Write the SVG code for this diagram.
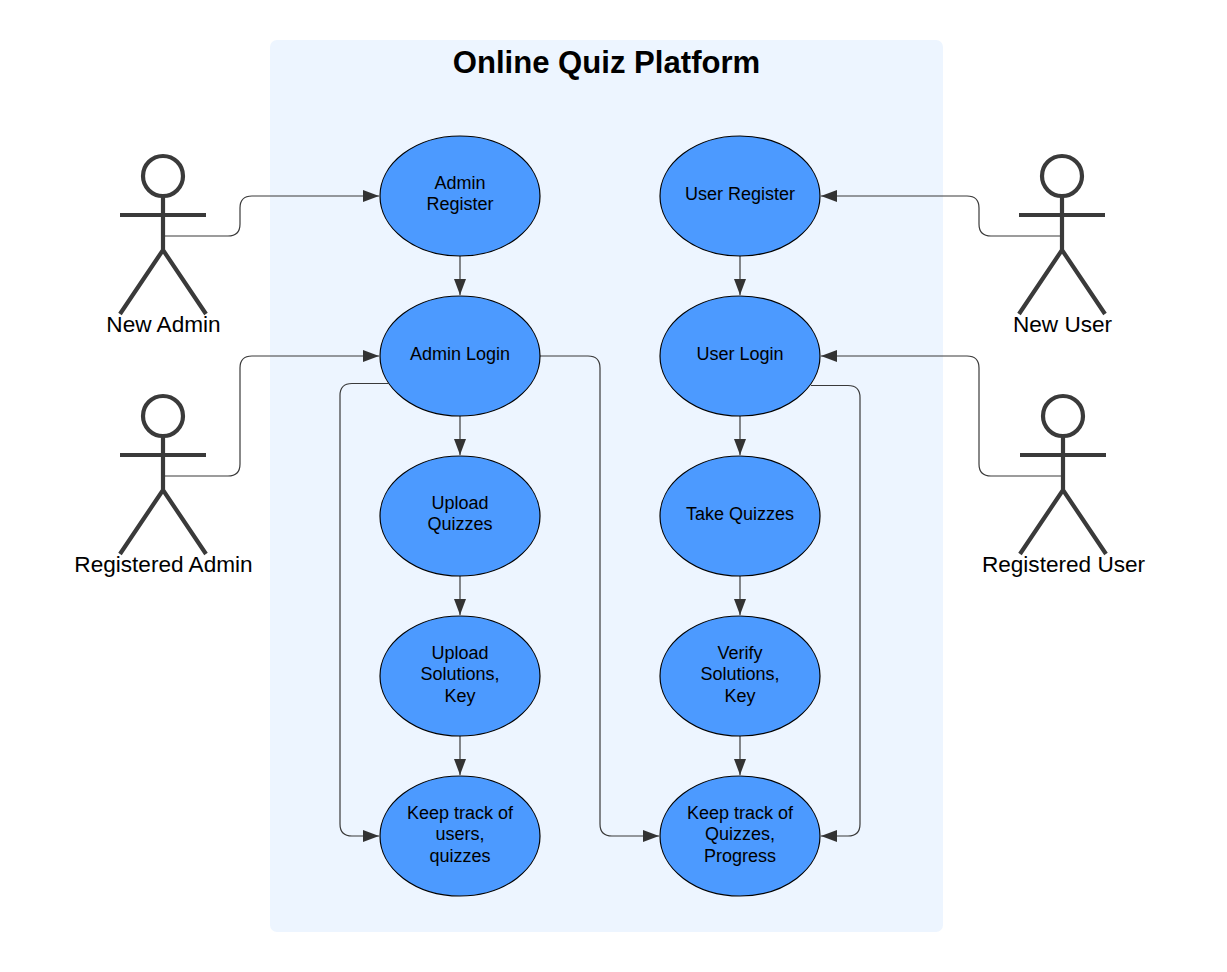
<svg xmlns="http://www.w3.org/2000/svg" width="1227" height="972" viewBox="0 0 1227 972">
<style>
text{font-family:"Liberation Sans",Arial,sans-serif;text-anchor:middle;fill:#000}
.u ellipse{fill:#4c9aff;stroke:#000;stroke-width:1.2}
.u text{font-size:18px}
.a path,.a circle{fill:none;stroke:#3a3a3a;stroke-width:4.2}
.a text{font-size:22.6px}
.c path{fill:none;stroke:#3a3a3a;stroke-width:1.2;marker-end:url(#ah)}
</style>
<defs><marker id="ah" markerUnits="userSpaceOnUse" markerWidth="17" markerHeight="12" refX="16" refY="6" orient="auto"><path d="M0 0L16 6L0 12Z" fill="#333"/></marker></defs>
<rect id="boundary" x="270" y="40" width="673" height="892" rx="7" fill="#edf5ff"/>
<text id="title" x="606.500" y="72.500" style="font-size:31.100px;font-weight:700">Online Quiz Platform</text>
<g id="connectors" class="c">
<path d="M163 236H228Q240 236 240 224V208Q240 196 252 196H379"/>
<path d="M163 476H228Q240 476 240 464V368Q240 356 252 356H379"/>
<path d="M1062 236H991Q979 236 979 224V208Q979 196 967 196H821"/>
<path d="M1063 476H991Q979 476 979 464V368Q979 356 967 356H821"/>
<path d="M460 256V295"/><path d="M460 416V455"/><path d="M460 576V615"/><path d="M460 736V775"/>
<path d="M740 256V295"/><path d="M740 416V455"/><path d="M740 576V615"/><path d="M740 736V775"/>
<path d="M388 383.500H352Q340 383.500 340 395.500V824Q340 836 352 836H379"/>
<path d="M540 356H588Q600 356 600 368V824Q600 836 612 836H659"/>
<path d="M811 385.500H848Q860 385.500 860 397.500V824Q860 836 848 836H821"/>
</g>
<g id="actor-new-admin" class="a"><circle cx="163" cy="176" r="20"/><path d="M163 196V250M120 215H206M120 314L163 250L206 314"/><text x="163.500" y="332">New Admin</text></g>
<g id="actor-registered-admin" class="a"><circle cx="163" cy="416" r="20"/><path d="M163 436V490M120 455H206M120 554L163 490L206 554"/><text x="163.500" y="572">Registered Admin</text></g>
<g id="actor-new-user" class="a"><circle cx="1062" cy="176" r="20"/><path d="M1062 196V250M1019 215H1105M1019 314L1062 250L1105 314"/><text x="1062.500" y="332">New User</text></g>
<g id="actor-registered-user" class="a"><circle cx="1063" cy="416" r="20"/><path d="M1063 436V490M1020 455H1106M1020 554L1063 490L1106 554"/><text x="1063.500" y="572">Registered User</text></g>
<g id="uc-admin-register" class="u"><ellipse cx="460" cy="196" rx="80" ry="60"/><text x="460" y="189">Admin</text><text x="460" y="210">Register</text></g>
<g id="uc-admin-login" class="u"><ellipse cx="460" cy="356" rx="80" ry="60"/><text x="460" y="360">Admin Login</text></g>
<g id="uc-upload-quizzes" class="u"><ellipse cx="460" cy="516" rx="80" ry="60"/><text x="460" y="509">Upload</text><text x="460" y="530">Quizzes</text></g>
<g id="uc-upload-solutions" class="u"><ellipse cx="460" cy="676" rx="80" ry="60"/><text x="460" y="658.500">Upload</text><text x="460" y="680">Solutions,</text><text x="460" y="701.500">Key</text></g>
<g id="uc-track-users" class="u"><ellipse cx="460" cy="836" rx="80" ry="60"/><text x="460" y="818.500">Keep track of</text><text x="460" y="840">users,</text><text x="460" y="861.500">quizzes</text></g>
<g id="uc-user-register" class="u"><ellipse cx="740" cy="196" rx="80" ry="60"/><text x="740" y="200">User Register</text></g>
<g id="uc-user-login" class="u"><ellipse cx="740" cy="356" rx="80" ry="60"/><text x="740" y="360">User Login</text></g>
<g id="uc-take-quizzes" class="u"><ellipse cx="740" cy="516" rx="80" ry="60"/><text x="740" y="520">Take Quizzes</text></g>
<g id="uc-verify-solutions" class="u"><ellipse cx="740" cy="676" rx="80" ry="60"/><text x="740" y="658.500">Verify</text><text x="740" y="680">Solutions,</text><text x="740" y="701.500">Key</text></g>
<g id="uc-track-quizzes" class="u"><ellipse cx="740" cy="836" rx="80" ry="60"/><text x="740" y="818.500">Keep track of</text><text x="740" y="840">Quizzes,</text><text x="740" y="861.500">Progress</text></g>
</svg>
